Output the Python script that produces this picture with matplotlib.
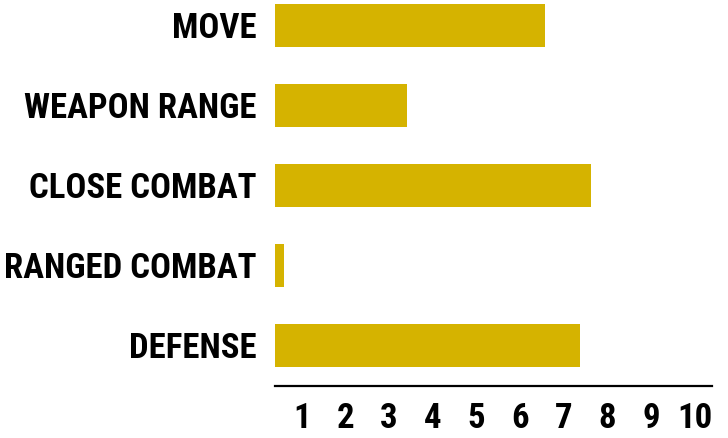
import matplotlib
matplotlib.use("Agg")
import matplotlib.pyplot as plt
import matplotlib.transforms as mtransforms

categories = ["MOVE", "WEAPON RANGE", "CLOSE COMBAT", "RANGED COMBAT", "DEFENSE"]
values = [6.17, 3.02, 7.23, 0.21, 6.98]
tick_values = [1, 2, 3, 4, 5, 6, 7, 8, 9, 10]
tick_labels = ["1", "2", "3", "4", "5", "6", "7", "8", "9", "10"]

bar_color = "#D5B300"
font = "Roboto Condensed"

fig = plt.figure(figsize=(7.28, 4.39), dpi=100)
ax = fig.add_axes([275 / 728, 1 - 387 / 439, 437 / 728, 382 / 439])

ypos = list(range(len(categories)))
ax.barh(ypos, values, height=0.54, color=bar_color, left=0)

ax.set_xlim(0, 10)
ax.set_ylim(4.506, -0.27)

ax.set_yticks(ypos)
ax.set_yticklabels(categories, fontfamily=font, fontweight="bold", fontsize=25)
ax.set_xticks(tick_values)
ax.set_xticklabels(tick_labels, fontfamily=font, fontweight="bold", fontsize=25)
ax.tick_params(axis="y", length=0, pad=13)
ax.tick_params(axis="x", length=0, pad=11)

# number labels sit a bit left of the ticks in the original
offset = mtransforms.ScaledTranslation(-17 / 100, 0, fig.dpi_scale_trans)
for lbl in ax.get_xticklabels():
    lbl.set_transform(lbl.get_transform() + offset)
# category labels: nudge up slightly
up = mtransforms.ScaledTranslation(0, 2 / 100, fig.dpi_scale_trans)
for lbl in ax.get_yticklabels():
    lbl.set_transform(lbl.get_transform() + up)

for side in ["top", "right", "left"]:
    ax.spines[side].set_visible(False)
ax.spines["bottom"].set_linewidth(1.6)
ax.spines["bottom"].set_color("black")

fig.savefig("out.png", dpi=100)
